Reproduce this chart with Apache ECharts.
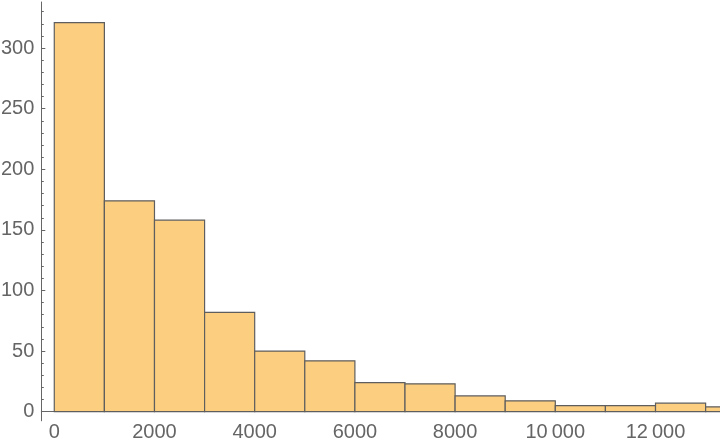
<!DOCTYPE html>
<html>
<head>
<meta charset="utf-8">
<script src="https://cdn.jsdelivr.net/npm/echarts@6/dist/echarts.min.js"></script>
<style>
html,body{margin:0;padding:0;background:#fff;}
#chart{width:720px;height:444px;}
</style>
</head>
<body>
<div id="chart"></div>
<script>
// Histogram bins (edges, width 1000) and counts
const binEdges = [0,1000,2000,3000,4000,5000,6000,7000,8000,9000,10000,11000,12000,13000,14000];
const counts = [321,174,158,82,50,42,24,23,13,9,5,5,7,4];
const xTickLabels = [0,2000,4000,6000,8000,10000,12000];
const xMinorTicks = [500,1000,1500,2000,2500,3000,3500,4000,4500,5000,5500,6000,6500,7000,7500,8000,8500,9000,9500,10000,10500,11000,11500,12000,12500,13000];
const yTickLabels = [0,50,100,150,200,250,300];
const yMinorTicks = [10,20,30,40,60,70,80,90,110,120,130,140,160,170,180,190,210,220,230,240,260,270,280,290,310,320,330];

const binData = counts.map((c, i) => [binEdges[i], binEdges[i + 1], c]);

const axisColor = '#666666';
const labelStyle = { color: '#656565', fontSize: 20, fontFamily: "'Liberation Sans', Arial, sans-serif" };

function fmt(v) {
  const s = String(v);
  if (s.length >= 5) return s.slice(0, s.length - 3) + '\u2009' + s.slice(s.length - 3);
  return s;
}

const chart = echarts.init(document.getElementById('chart'), null, { renderer: 'canvas' });
chart.setOption({
  animation: false,
  backgroundColor: '#ffffff',
  grid: { left: 41.3, right: 0, top: 2, bottom: 23.2, containLabel: false, outerBoundsMode: 'none' },
  xAxis: {
    type: 'value', min: -259, max: 13287,
    axisLine: { show: true, onZero: true, lineStyle: { color: axisColor, width: 1 } },
    axisTick: { show: true, inside: true, length: 3, customValues: xMinorTicks, lineStyle: { color: axisColor } },
    axisLabel: Object.assign({ show: true, margin: 2, customValues: xTickLabels, formatter: fmt }, labelStyle),
    splitLine: { show: false }
  },
  yAxis: [
    { type: 'value', min: -7.5, max: 338,
      axisLine: { show: true, onZero: false, lineStyle: { color: axisColor, width: 1 } },
      axisTick: { show: true, inside: true, length: 4, customValues: yTickLabels, lineStyle: { color: axisColor } },
      axisLabel: Object.assign({ show: true, margin: 7, customValues: yTickLabels }, labelStyle),
      splitLine: { show: false } },
    { type: 'value', min: -7.5, max: 338, position: 'left',
      axisLine: { show: false, onZero: false },
      axisTick: { show: true, inside: true, length: 2.5, customValues: yMinorTicks, lineStyle: { color: axisColor } },
      axisLabel: { show: false }, splitLine: { show: false } }
  ],
  series: [{
    type: 'custom', clip: true, data: binData, encode: { x: [0, 1], y: 2 },
    renderItem: function (params, api) {
      const p0 = api.coord([api.value(0), api.value(2)]);
      const p1 = api.coord([api.value(1), 0]);
      return { type: 'rect', shape: { x: p0[0], y: p0[1], width: p1[0] - p0[0], height: p1[1] - p0[1] },
        style: { fill: '#FCCE7F', stroke: '#5e5e5e', lineWidth: 1.2 } };
    }
  }]
});
</script>
</body>
</html>
